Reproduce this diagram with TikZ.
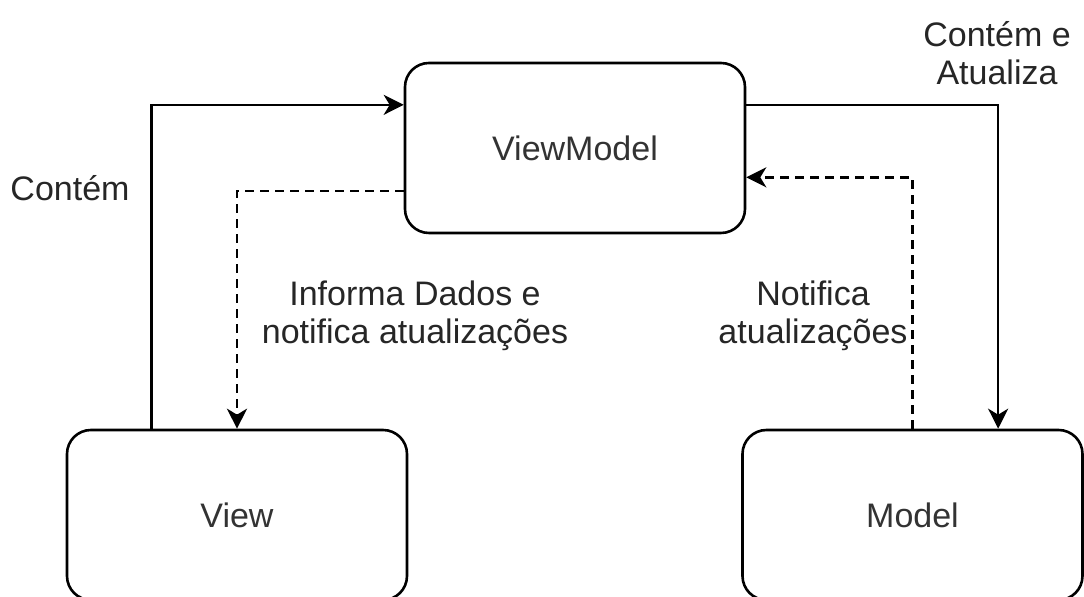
\documentclass[tikz,border=0pt]{standalone}
\usepackage{fontspec}
\setmainfont{Liberation Sans}
\usetikzlibrary{arrows.meta,calc}

\begin{document}
\begin{tikzpicture}[x=0.5pt, y=-0.5pt,
    box/.style={draw, line width=1.3pt, rounded corners=12pt,
      minimum width=170pt, minimum height=85pt, text=black!80,
      font=\fontsize{17}{20}\selectfont},
    link/.style={line width=1.3pt, -{Stealth[length=10pt, width=10pt, inset=3pt]}},
    dashlink/.style={link, dash pattern=on 4.5pt off 3pt},
    lbl/.style={align=center, text=black!85, font=\fontsize{17}{19}\selectfont}]

      \useasboundingbox (0,0) rectangle (1084,597);

      % the three layers
      \node[box] (vm) at (575,148) {ViewModel};
      \node[box] (view) at (237,515) {View};
      \node[box] (model) at (912.5,515) {Model};

      % view <-> viewmodel
      \draw[link] ($(view.north)!0.5!(view.north west)$) |- ($(vm.west)!0.5!(vm.north west)$);
      \draw[dashlink] ($(vm.west)!0.5!(vm.south west)$) -| (view.north);

      % viewmodel <-> model
      \draw[link] ($(vm.east)!0.5!(vm.north east)$) -| ($(model.north)!0.5!(model.north east)$);
      \draw[dashlink] (model.north) |- ($(vm.east)!0.34!(vm.south east)$);

      \node[lbl] (contem) at (70,188) {Contém};
      \node[lbl] (informa) at (415,316) {Informa Dados e\\notifica atualizações};
      \node[lbl] (notifica) at (813,316) {Notifica\\atualizações};
      \node[lbl] (atualiza) at (997,53) {Contém e\\Atualiza};

\end{tikzpicture}
\end{document}
